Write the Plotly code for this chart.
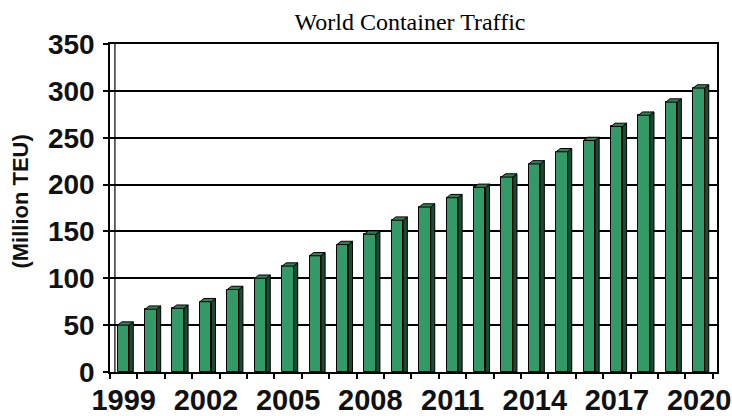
import plotly.graph_objects as go

# World container traffic, million TEU
years = list(range(1999, 2021))
teu = [50, 67, 68, 75, 88, 100, 113, 124, 136, 147, 162, 176,
       186, 197, 208, 222, 235, 247, 262, 274, 288, 303]
label_years = [1999, 2002, 2005, 2008, 2011, 2014, 2017, 2020]
y_ticks = [0, 50, 100, 150, 200, 250, 300, 350]

FRONT = "#339966"
SIDE = "#1c4a30"
TOP = "#2c8355"

# pseudo-3D bar geometry (in axis units)
left, right = -0.22, 0.20
dx, dy = 0.15, 3.5

fig = go.Figure()

fig.add_trace(go.Bar(
    x=years, y=teu, width=right - left, offset=left,
    marker=dict(color=FRONT, line=dict(color="black", width=1)),
    hoverinfo="x+y", showlegend=False,
))

# side faces
sx, sy = [], []
for c, v in zip(years, teu):
    x0 = c + right
    sx += [x0, x0, x0 + dx, x0 + dx, x0, None]
    sy += [0, v, v + dy, 0, 0, None]
fig.add_trace(go.Scatter(
    x=sx, y=sy, mode="lines", fill="toself", fillcolor=SIDE,
    line=dict(color="black", width=1), hoverinfo="skip", showlegend=False,
))

# top faces
tx, ty = [], []
for c, v in zip(years, teu):
    a, b = c + left, c + right
    tx += [a, b, b + dx, a + dx, a, None]
    ty += [v, v, v + dy, v + dy, v, None]
fig.add_trace(go.Scatter(
    x=tx, y=ty, mode="lines", fill="toself", fillcolor=TOP,
    line=dict(color="black", width=1), hoverinfo="skip", showlegend=False,
))

# inner back-wall edge
fig.add_shape(type="line", xref="x", yref="y",
              x0=1998.5 + 0.18, x1=1998.5 + 0.18, y0=0, y1=350,
              line=dict(color="black", width=1.2))

fig.add_annotation(
    text="(Million TEU)", xref="paper", yref="paper",
    x=-0.148, y=0.52, xanchor="center", yanchor="middle",
    textangle=-90, showarrow=False,
    font=dict(family="Liberation Sans, Arial", size=22, color="#111", weight="bold"),
)

fig.update_layout(
    width=732, height=416,
    margin=dict(l=110, r=15, t=44, b=44, autoexpand=False),
    paper_bgcolor="white", plot_bgcolor="white",
    title=dict(
        text="World Container Traffic", x=410 / 732, xanchor="center",
        xref="container", y=1 - 22 / 416, yanchor="middle", yref="container",
        font=dict(family="Liberation Serif, Times New Roman", size=24, color="black"),
    ),
    bargap=0,
)

fig.update_xaxes(
    type="linear", range=[1998.5, 2020.65], automargin=False,
    tickvals=label_years, ticktext=[str(y) for y in label_years],
    ticks="", showgrid=False, zeroline=False,
    showline=True, linecolor="black", linewidth=1.5, mirror=True,
    tickfont=dict(family="Liberation Sans, Arial", size=29, color="#111", weight="bold"),
    minor=dict(tickvals=[y - 0.5 for y in years] + [2020.5], ticks="outside",
               ticklen=5, tickcolor="black", tickwidth=1.5, showgrid=False),
    ticklabelstandoff=1,
)

fig.update_yaxes(
    range=[0, 350], tickvals=y_ticks, automargin=False,
    ticks="outside", ticklen=5, tickcolor="black", tickwidth=1.5,
    showgrid=True, gridcolor="black", gridwidth=1.5, zeroline=False,
    showline=True, linecolor="black", linewidth=1.5, mirror=True,
    tickfont=dict(family="Liberation Sans, Arial", size=28, color="#111", weight="bold"),
    ticklabelstandoff=3,
)

fig.write_html("out.html")
